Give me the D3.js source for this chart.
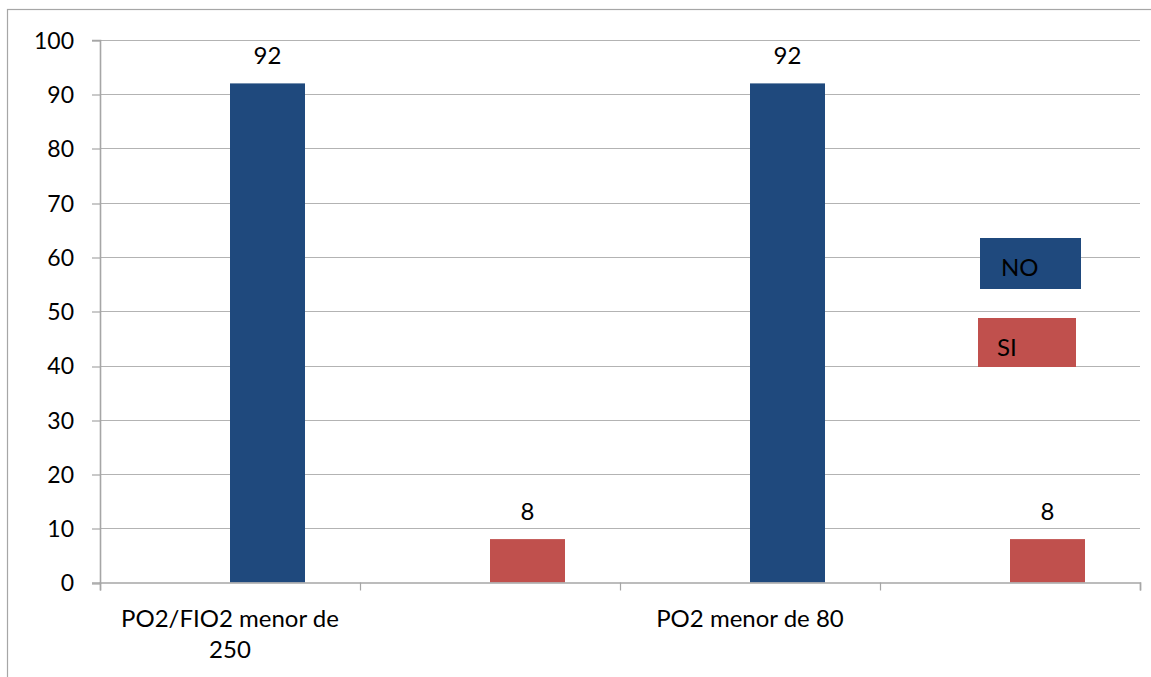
<!DOCTYPE html>
<html>
<head>
<meta charset="utf-8">
<script src="https://cdn.jsdelivr.net/npm/d3@7/dist/d3.min.js"></script>
<style>
  html, body { margin: 0; padding: 0; background: #ffffff; }
  svg { display: block; }
  text { font-family: Lato, "Open Sans", sans-serif; fill: #000; }
</style>
</head>
<body>
<svg id="chart" width="1151" height="677"></svg>
<script>
// Categories along the x axis (slots 2 and 4 carry no label)
const categories = ["PO2/FIO2 menor de 250", "", "PO2 menor de 80", ""];
const seriesNames = ["NO", "SI"];
const valuesNO = [92, null, 92, null];
const valuesSI = [null, 8, null, 8];
const yTicks = [0, 10, 20, 30, 40, 50, 60, 70, 80, 90, 100];
const colors = { NO: "#1F497D", SI: "#C0504D" };

const W = 1151, H = 677;
const margin = { left: 100, right: 11, top: 40, bottom: 94.5 };
const plotW = W - margin.left - margin.right;   // 1040
const plotH = H - margin.top - margin.bottom;   // 542.5
const FS = "24px";

const svg = d3.select("#chart");

// outer chart frame (runs off the right and bottom edges)
svg.append("rect")
  .attr("x", 7.5).attr("y", 9.5)
  .attr("width", W + 20).attr("height", H + 20)
  .attr("fill", "none").attr("stroke", "#a6a6a6").attr("stroke-width", 1.2);

const g = svg.append("g").attr("transform", `translate(${margin.left},${margin.top})`);

const x0 = d3.scaleBand().domain(d3.range(categories.length)).range([0, plotW]).padding(0);
// two cluster positions per slot; bars sit in the second one
const x1 = d3.scaleBand().domain(["blank", "value"]).range([0, x0.bandwidth()])
  .paddingInner(0).paddingOuter(0.7333);
const y = d3.scaleLinear().domain([0, 100]).range([plotH, 0]);

// gridlines
g.append("g").selectAll("line").data(yTicks.filter(d => d > 0)).join("line")
  .attr("x1", 0).attr("x2", plotW)
  .attr("y1", d => Math.round(y(d)) + 0.5).attr("y2", d => Math.round(y(d)) + 0.5)
  .attr("stroke", "#b3b3b3").attr("stroke-width", 1.2);

// y axis
const yAxis = g.append("g")
  .call(d3.axisLeft(y).tickValues(yTicks).tickSize(8).tickPadding(18).tickFormat(d3.format("d")));
yAxis.selectAll("line").attr("stroke", "#a6a6a6").attr("stroke-width", 1.2)
  .attr("transform", d => `translate(0,${Math.round(y(d)) + 0.5 - y(d)})`);
yAxis.select(".domain").attr("stroke", "#a6a6a6").attr("stroke-width", 1.6);
yAxis.selectAll("text").style("font-size", "23px").attr("dy", "0.36em");

// bars
const bars = [];
categories.forEach((c, i) => {
  if (valuesNO[i] != null) bars.push({ i, s: "NO", v: valuesNO[i] });
  if (valuesSI[i] != null) bars.push({ i, s: "SI", v: valuesSI[i] });
});
g.append("g").selectAll("rect").data(bars).join("rect")
  .attr("x", d => x0(d.i) + x1("value"))
  .attr("width", x1.bandwidth())
  .attr("y", d => y(d.v))
  .attr("height", d => plotH - y(d.v))
  .attr("fill", d => colors[d.s]);

// value labels
g.append("g").selectAll("text").data(bars).join("text")
  .attr("x", d => x0(d.i) + x1("value") + x1.bandwidth() / 2)
  .attr("y", d => y(d.v) - 19)
  .attr("text-anchor", "middle")
  .style("font-size", FS)
  .text(d => d.v);

// x axis: boundary ticks between slots
const xEdge = d3.scaleLinear().domain([0, categories.length]).range([0, plotW]);
const xAxis = g.append("g").attr("transform", `translate(0,${plotH})`)
  .call(d3.axisBottom(xEdge).tickValues(d3.range(categories.length + 1)).tickSize(8).tickFormat(""));
xAxis.selectAll("line").attr("stroke", "#a6a6a6").attr("stroke-width", 1.2);
xAxis.select(".domain").attr("stroke", "#a6a6a6").attr("stroke-width", 1.6);

// category labels, wrapped to the slot width
function wrapWords(text, maxW) {
  const probe = g.append("text").style("font-size", FS);
  const words = text.split(" ");
  const lines = [];
  let cur = "";
  words.forEach(w => {
    const t = cur ? cur + " " + w : w;
    probe.text(t);
    if (probe.node().getComputedTextLength() > maxW && cur) { lines.push(cur); cur = w; }
    else cur = t;
  });
  if (cur) lines.push(cur);
  probe.remove();
  return lines;
}
categories.forEach((c, i) => {
  if (!c) return;
  const lines = wrapWords(c, 240);
  const t = g.append("text")
    .attr("x", x0(i) + x0.bandwidth() / 2)
    .attr("y", plotH + 44)
    .attr("text-anchor", "middle")
    .style("font-size", FS);
  lines.forEach((ln, k) => {
    t.append("tspan").attr("x", x0(i) + x0.bandwidth() / 2).attr("dy", k === 0 ? 0 : 31).text(ln);
  });
});

// legend: coloured boxes with the series name inside
const legendBoxes = [
  { s: "NO", x: 980, y: 238, w: 101, h: 51, tx: 1001, ty: 276 },
  { s: "SI", x: 978, y: 318, w: 98, h: 49, tx: 997, ty: 356 }
];
const lg = svg.append("g");
legendBoxes.forEach(b => {
  lg.append("rect").attr("x", b.x).attr("y", b.y).attr("width", b.w).attr("height", b.h)
    .attr("fill", colors[b.s]);
  lg.append("text").attr("x", b.tx).attr("y", b.ty).style("font-size", FS).text(b.s);
});
</script>
</body>
</html>
